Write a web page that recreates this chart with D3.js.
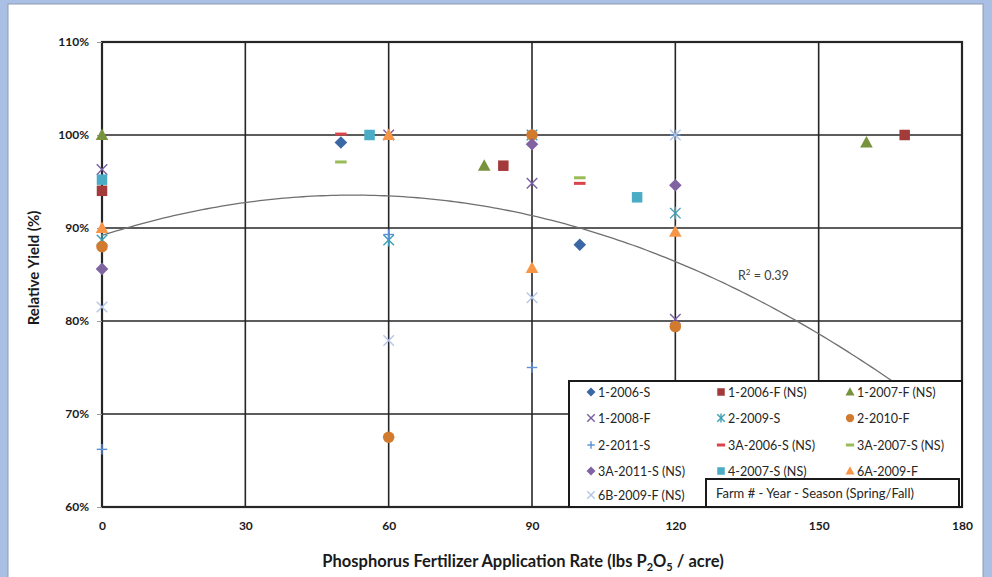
<!DOCTYPE html>
<html>
<head>
<meta charset="utf-8">
<script src="https://cdn.jsdelivr.net/npm/d3@7"></script>
<style>
  body { margin: 0; background: #a9bfe4; }
  svg { display: block; }
</style>
</head>
<body>
<script>
// legend order
const seriesNames = ['1-2006-S', '1-2006-F (NS)', '1-2007-F (NS)', '1-2008-F', '2-2009-S', '2-2010-F',
  '2-2011-S', '3A-2006-S (NS)', '3A-2007-S (NS)', '3A-2011-S (NS)', '4-2007-S (NS)', '6A-2009-F', '6B-2009-F (NS)']

// [rate lbs P2O5/acre, relative yield %]
const f1_2006_S = [[50, 99.2], [100, 88.2]]
const f1_2006_F = [[0, 94.0], [84, 96.7], [168, 100]]
const f1_2007_F = [[0, 100], [80, 96.7], [160, 99.2]]
const f1_2008_F = [[0, 96.3], [60, 100], [90, 94.8], [120, 80.2]]
const f2_2009_S = [[0, 88.7], [60, 88.7], [90, 100], [120, 91.6]]
const f2_2010_F = [[0, 88.0], [60, 67.5], [90, 100], [120, 79.4]]
const f2_2011_S = [[0, 66.2], [60, 89.3], [90, 75.0], [120, 100]]
const f3A_2006_S = [[50, 100.1], [100, 94.8]]
const f3A_2007_S = [[50, 97.1], [100, 95.4]]
const f3A_2011_S = [[0, 85.6], [90, 99.0], [120, 94.6]]
const f4_2007_S = [[0, 95.2], [56, 100], [112, 93.3]]
const f6A_2009_F = [[0, 90.0], [60, 100], [90, 85.7], [120, 89.6]]
const f6B_2009_F = [[0, 81.5], [60, 77.9], [90, 82.5], [120, 100]]

const seriesData = [f1_2006_S, f1_2006_F, f1_2007_F, f1_2008_F, f2_2009_S, f2_2010_F, f2_2011_S,
  f3A_2006_S, f3A_2007_S, f3A_2011_S, f4_2007_S, f6A_2009_F, f6B_2009_F]

const xTicks = [0, 30, 60, 90, 120, 150, 180]
const yTicks = [60, 70, 80, 90, 100, 110]

// polynomial trendline: a + b*x + c*x^2
const trendCoef = [89.2, 0.165, -0.00157]
const trendRange = [0, 168]
const rSquared = '0.39'

const markerStyle = [
  { shape: 'diamond', color: '#3b67a5' },
  { shape: 'square', color: '#a33b3a' },
  { shape: 'triangle', color: '#77933c' },
  { shape: 'x', color: '#7b5ea3' },
  { shape: 'asterisk', color: '#3d9db4' },
  { shape: 'circle', color: '#d27a2e' },
  { shape: 'plus', color: '#5b8fd6' },
  { shape: 'dash', color: '#d9454a' },
  { shape: 'dash', color: '#9bbb59' },
  { shape: 'diamond', color: '#8064a2' },
  { shape: 'square', color: '#4bacc6' },
  { shape: 'triangle', color: '#f79646' },
  { shape: 'x', color: '#b4c6e7' }
]

const W = 992, H = 577
const svg = d3.select('body').append('svg').attr('width', W).attr('height', H)
  .style('font-family', 'Lato, "Open Sans", sans-serif')

svg.append('rect').attr('x', 8).attr('y', 4).attr('width', 975).attr('height', H)
  .attr('fill', 'white').attr('stroke', '#8d9bb0').attr('stroke-width', 1)

const pLeft = 102, pRight = 962, pTop = 42, pBottom = 507
const x = d3.scaleLinear().domain([0, 180]).range([pLeft, pRight])
const y = d3.scaleLinear().domain([60, 110]).range([pBottom, pTop])

// grid
svg.append('g').selectAll('line').data(xTicks).join('line')
  .attr('x1', d => x(d)).attr('x2', d => x(d)).attr('y1', pTop).attr('y2', pBottom)
  .attr('stroke', '#262626').attr('stroke-width', 1.6)
svg.append('g').selectAll('line').data(yTicks).join('line')
  .attr('x1', pLeft).attr('x2', pRight).attr('y1', d => y(d)).attr('y2', d => y(d))
  .attr('stroke', '#262626').attr('stroke-width', 1.6)
svg.append('rect').attr('x', pLeft).attr('y', pTop).attr('width', pRight - pLeft).attr('height', pBottom - pTop)
  .attr('fill', 'none').attr('stroke', '#262626').attr('stroke-width', 2.2)

// axes
const xAxis = svg.append('g').attr('transform', `translate(0,${pBottom})`)
  .call(d3.axisBottom(x).tickValues(xTicks).tickSize(0).tickPadding(14))
const yAxis = svg.append('g').attr('transform', `translate(${pLeft},0)`)
  .call(d3.axisLeft(y).tickValues(yTicks).tickSize(5).tickPadding(8).tickFormat(d => d + '%'))
for (const ax of [xAxis, yAxis]) {
  ax.select('.domain').remove()
  ax.selectAll('text').attr('font-family', 'Lato, sans-serif').attr('font-size', 12)
    .attr('font-weight', 'bold').attr('fill', '#1a1a1a')
}
yAxis.selectAll('line').attr('stroke', '#999')

svg.append('text').text('Relative Yield (%)')
  .attr('transform', `translate(39,268) rotate(-90)`)
  .attr('text-anchor', 'middle').attr('font-size', 15).attr('font-weight', 'bold').attr('fill', '#1a1a1a')

const xt = svg.append('text').attr('x', 523).attr('y', 567).attr('text-anchor', 'middle')
  .attr('font-size', 16.5).attr('font-weight', 'bold').attr('fill', '#1a1a1a')
xt.append('tspan').text('Phosphorus Fertilizer Application Rate (lbs P')
xt.append('tspan').text('2').attr('font-size', 11).attr('dy', 4)
xt.append('tspan').text('O').attr('dy', -4)
xt.append('tspan').text('5').attr('font-size', 11).attr('dy', 4)
xt.append('tspan').text(' / acre)').attr('dy', -4)

// trendline
const trendPts = d3.range(trendRange[0], trendRange[1] + 0.5, 1)
  .map(v => [v, trendCoef[0] + trendCoef[1] * v + trendCoef[2] * v * v])
svg.append('path').datum(trendPts)
  .attr('d', d3.line().x(d => x(d[0])).y(d => y(d[1])))
  .attr('fill', 'none').attr('stroke', '#6f6f6f').attr('stroke-width', 1.3)

const r2 = svg.append('text').attr('x', 738).attr('y', 280).attr('font-size', 12.5).attr('fill', '#404040')
r2.append('tspan').text('R')
r2.append('tspan').text('2').attr('font-size', 8).attr('dy', -5)
r2.append('tspan').text(' = ' + rSquared).attr('dy', 5)

// markers
function drawMarker(g, shape, color, s) {
  if (shape === 'diamond') {
    const h = s * 0.6
    g.append('path').attr('d', `M0,${-h}L${h},0L0,${h}L${-h},0Z`).attr('fill', color)
  } else if (shape === 'square') {
    g.append('rect').attr('x', -s / 2).attr('y', -s / 2).attr('width', s).attr('height', s).attr('fill', color)
  } else if (shape === 'triangle') {
    g.append('path').attr('d', `M0,${-s * 0.62}L${s * 0.6},${s * 0.48}L${-s * 0.6},${s * 0.48}Z`).attr('fill', color)
  } else if (shape === 'circle') {
    g.append('circle').attr('r', s * 0.55).attr('fill', color)
  } else if (shape === 'x' || shape === 'asterisk' || shape === 'plus') {
    const h = s / 2
    let segs = []
    if (shape !== 'plus') segs.push([-h, -h, h, h], [-h, h, h, -h])
    if (shape === 'plus') segs.push([-h, 0, h, 0], [0, -h, 0, h])
    if (shape === 'asterisk') segs.push([0, -h * 1.2, 0, h * 1.2])
    g.selectAll('line').data(segs).join('line')
      .attr('x1', d => d[0]).attr('y1', d => d[1]).attr('x2', d => d[2]).attr('y2', d => d[3])
      .attr('stroke', color).attr('stroke-width', 1.4)
  } else if (shape === 'dash') {
    g.append('rect').attr('x', -s * 0.55).attr('y', -1.5).attr('width', s * 1.1).attr('height', 3).attr('fill', color)
  }
}

seriesData.forEach((pts, i) => {
  const st = markerStyle[i]
  pts.forEach(p => {
    const g = svg.append('g').attr('transform', `translate(${x(p[0])},${y(p[1])})`)
    drawMarker(g, st.shape, st.color, 10.5)
  })
})

// legend
const lg = svg.append('g')
lg.append('rect').attr('x', 569).attr('y', 381).attr('width', 393).attr('height', 126)
  .attr('fill', 'white').attr('stroke', '#1a1a1a').attr('stroke-width', 2)
const colX = [591, 721, 850]
const rowY = [392, 418, 445, 471, 495]
seriesNames.forEach((name, i) => {
  const cx = colX[i % 3], cy = rowY[Math.floor(i / 3)]
  const g = lg.append('g').attr('transform', `translate(${cx},${cy})`)
  drawMarker(g, markerStyle[i].shape, markerStyle[i].color, 7.5)
  lg.append('text').text(name).attr('x', cx + 7).attr('y', cy + 4.5)
    .attr('font-size', 12.5).attr('fill', '#262626')
})
lg.append('rect').attr('x', 706).attr('y', 479).attr('width', 253).attr('height', 28)
  .attr('fill', 'white').attr('stroke', '#1a1a1a').attr('stroke-width', 2)
lg.append('text').text('Farm # - Year - Season (Spring/Fall)').attr('x', 716).attr('y', 498)
  .attr('font-size', 13).attr('fill', '#262626')
</script>
</body>
</html>
